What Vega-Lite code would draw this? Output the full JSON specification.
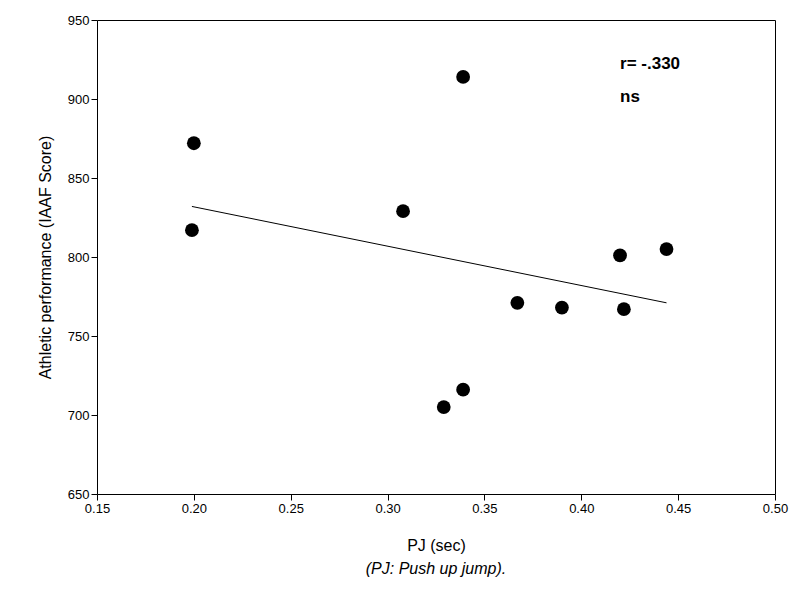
{
  "$schema": "https://vega.github.io/schema/vega-lite/v6.json",
  "width": 678,
  "height": 474,
  "autosize": "none",
  "padding": {"left": 97, "top": 20, "right": 19, "bottom": 114},
  "background": "white",
  "config": {
    "font": "Liberation Sans",
    "view": {"stroke": "black", "strokeWidth": 1},
    "axis": {"grid": false, "domain": false, "labelFlush": false, "tickColor": "black", "tickSize": 6, "labelColor": "black", "labelFontSize": 13, "titleFontSize": 16, "titleFontWeight": "normal", "titleColor": "black"}
  },
  "title": {"text": "(PJ: Push up jump).", "orient": "bottom", "fontSize": 16, "fontStyle": "italic", "fontWeight": "normal", "color": "black", "offset": 8},
  "datasets": {
    "pts": [
      {"pj": 0.200, "score": 872},
      {"pj": 0.199, "score": 817},
      {"pj": 0.308, "score": 829},
      {"pj": 0.339, "score": 914},
      {"pj": 0.329, "score": 705},
      {"pj": 0.339, "score": 716},
      {"pj": 0.367, "score": 771},
      {"pj": 0.390, "score": 768},
      {"pj": 0.420, "score": 801},
      {"pj": 0.422, "score": 767},
      {"pj": 0.444, "score": 805}
    ],
    "fit": [
      {"pj": 0.199, "score": 832},
      {"pj": 0.444, "score": 771}
    ],
    "note": [
      {"pj": 0.42, "score": 922, "t": "r= -.330"},
      {"pj": 0.42, "score": 901, "t": "ns"}
    ]
  },
  "layer": [
    {
      "data": {"name": "fit"},
      "mark": {"type": "line", "color": "black", "strokeWidth": 1},
      "encoding": {
        "x": {"field": "pj", "type": "quantitative", "scale": {"domain": [0.15, 0.5], "nice": false, "zero": false}, "axis": {"values": [0.15, 0.2, 0.25, 0.3, 0.35, 0.4, 0.45, 0.5], "format": ".2f", "title": "PJ (sec)", "titlePadding": 22}},
        "y": {"field": "score", "type": "quantitative", "scale": {"domain": [650, 950], "nice": false, "zero": false}, "axis": {"values": [650, 700, 750, 800, 850, 900, 950], "title": "Athletic performance (IAAF Score)", "titlePadding": 14}}
      }
    },
    {
      "data": {"name": "pts"},
      "mark": {"type": "circle", "color": "black", "opacity": 1, "size": 190},
      "encoding": {
        "x": {"field": "pj", "type": "quantitative"},
        "y": {"field": "score", "type": "quantitative"}
      }
    },
    {
      "data": {"name": "note"},
      "mark": {"type": "text", "align": "left", "fontSize": 17, "fontWeight": "bold", "color": "black"},
      "encoding": {
        "x": {"field": "pj", "type": "quantitative"},
        "y": {"field": "score", "type": "quantitative"},
        "text": {"field": "t"}
      }
    }
  ]
}
